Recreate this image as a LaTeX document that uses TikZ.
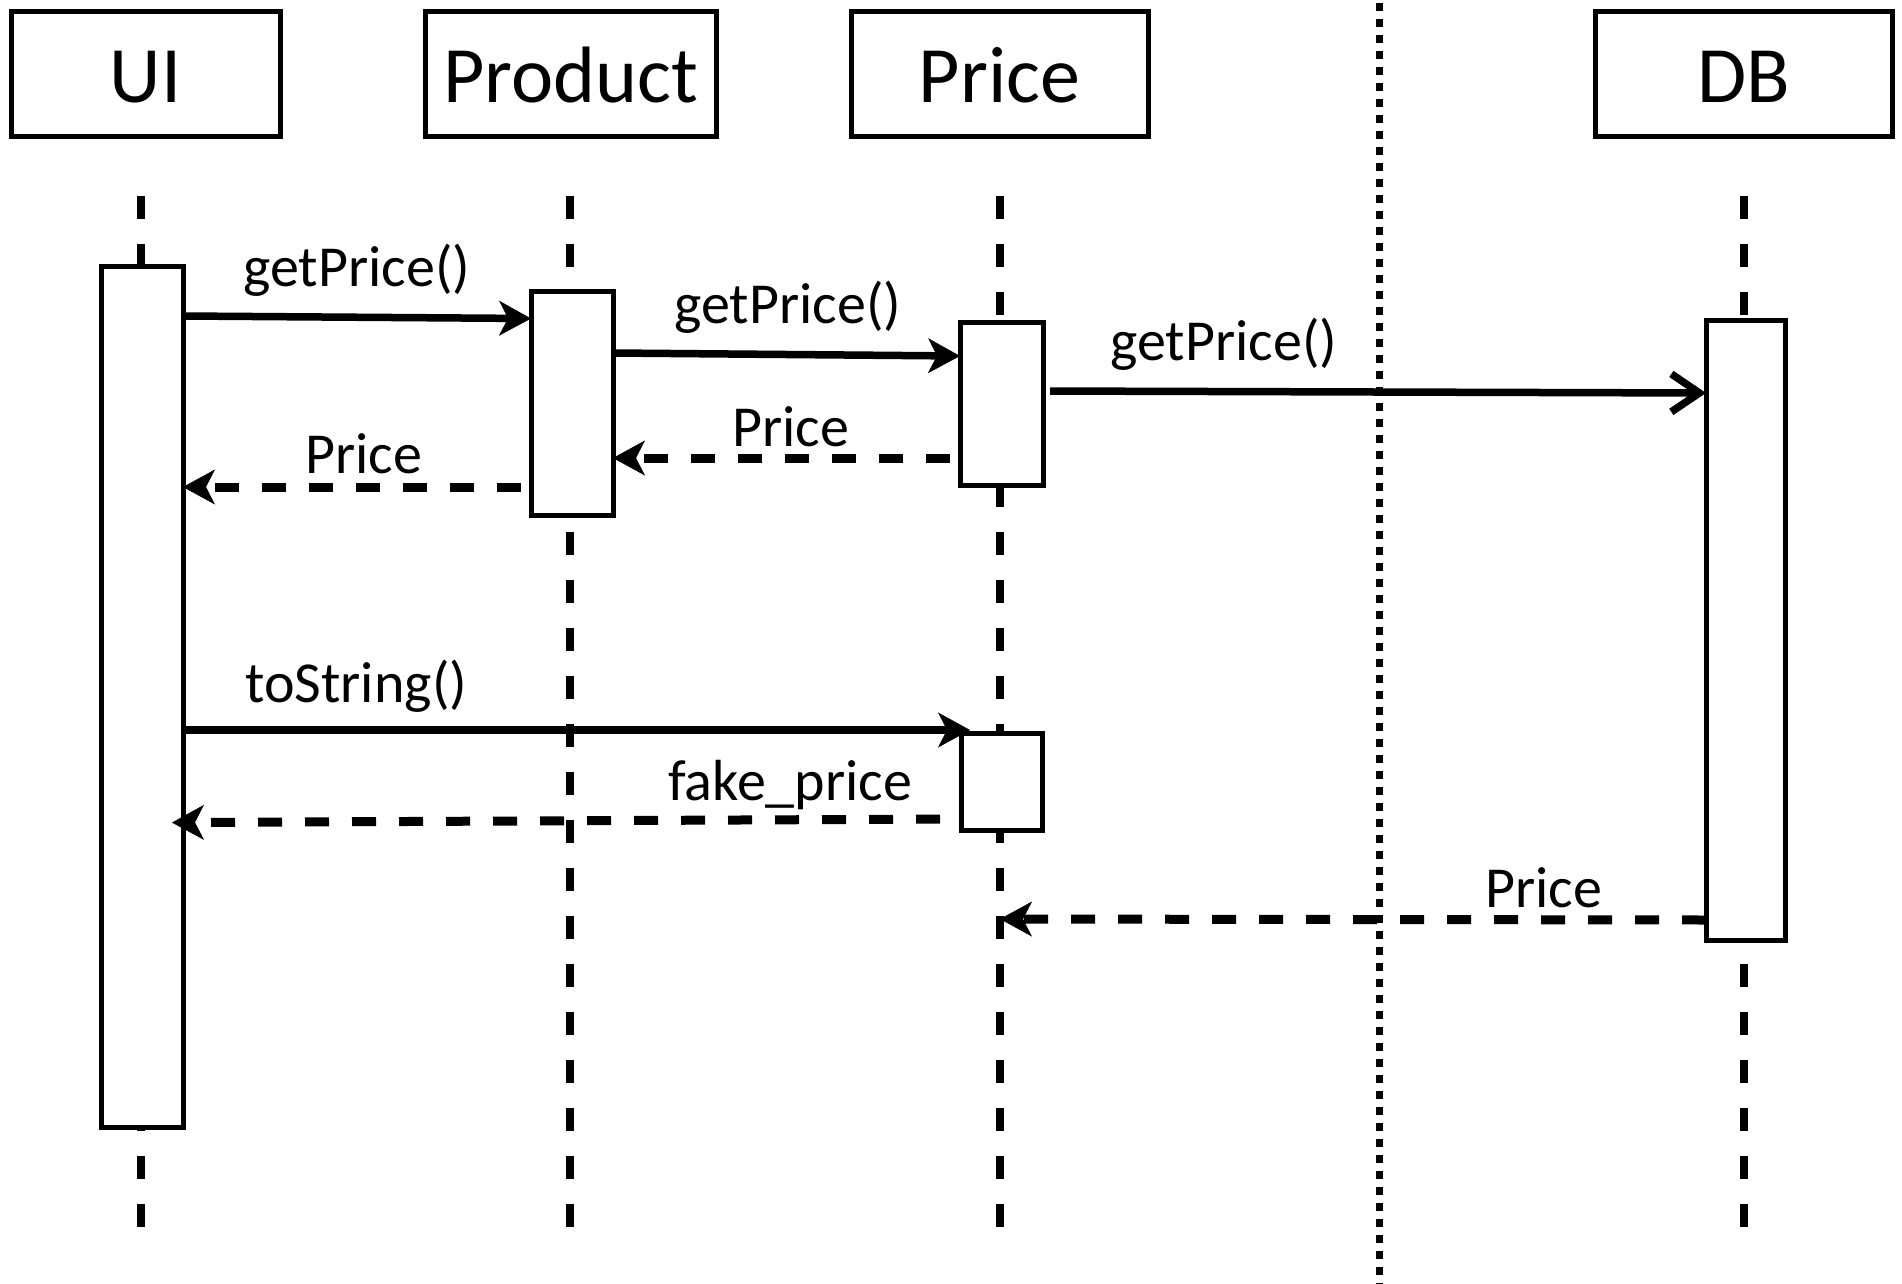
\documentclass[tikz,border=0pt]{standalone}
\usepackage{fontspec}
\setmainfont{Carlito}
\usetikzlibrary{arrows.meta}
\tikzset{
  hdr/.style={draw, line width=5pt, inner sep=0pt, outer sep=0pt, minimum height=125pt,
    font=\fontsize{80}{96}\selectfont, text height=57pt, text depth=0pt},
  act/.style={draw, fill=white, line width=5pt, inner sep=0pt, outer sep=0pt},
  lifeline/.style={line width=7.5pt, dash pattern=on 23pt off 25pt},
  divider/.style={line width=7pt, dash pattern=on 8pt off 8pt},
  filledtip/.style={-{Stealth[length=32pt,width=35pt,inset=9pt,line width=0.5pt]}},
  call/.style={line width=7.5pt, filledtip},
  async/.style={line width=7.5pt, -{Straight Barb[length=28pt,width=38pt]}},
  reply/.style={line width=9pt, dash pattern=on 24pt off 23pt, filledtip},
  lbl/.style={anchor=base west, inner sep=0pt, font=\fontsize{58}{70}\selectfont},
}
\begin{document}
\begin{tikzpicture}[x=1pt,y=-1pt]
\useasboundingbox (0,0) rectangle (1902,1284);

% lifeline end points
\coordinate (uiT) at (141,196);   \coordinate (uiB) at (141,1227);
\coordinate (prT) at (570,196);   \coordinate (prB) at (570,1227);
\coordinate (pcT) at (1000,196);  \coordinate (pcB) at (1000,1227);
\coordinate (dbT) at (1744,196);  \coordinate (dbB) at (1744,1227);
\coordinate (dvT) at (1379,3);    \coordinate (dvB) at (1379,1284);

\draw[lifeline] (uiT) -- (uiB);
\draw[lifeline] (prT) -- (prB);
\draw[lifeline] (pcT) -- (pcB);
\draw[lifeline] (dbT) -- (dbB);
\draw[divider] (dvT) -- (dvB);

% header boxes
\node[hdr, minimum width=269pt] (ui)      at (145.5,74.5)  {UI};
\node[hdr, minimum width=291pt] (product) at (570.5,74.5)  {Product};
\node[hdr, minimum width=297pt] (price)   at (999.5,74.5)  {Price};
\node[hdr, minimum width=297pt] (db)      at (1743.5,74.5) {DB};

% activation bars
\node[act, minimum width=82pt, minimum height=861pt] (uiact)     at (142,696.5)  {};
\node[act, minimum width=82pt, minimum height=224pt] (prodact)   at (572,403)    {};
\node[act, minimum width=83pt, minimum height=163pt] (priceactA) at (1001.5,403.5) {};
\node[act, minimum width=81pt, minimum height=97pt]  (priceactB) at (1001.5,782) {};
\node[act, minimum width=79pt, minimum height=620pt] (dbact)     at (1745.5,630) {};

% messages
\draw[call] (uiact.east |- 0,316) -- (prodact.west |- 0,318.5);
\draw[call] (prodact.east |- 0,353) -- (priceactA.west |- 0,356);
\draw[async, shorten <=7pt] (priceactA.east |- 0,391) -- (dbact.west |- 0,393);
\draw[reply, shorten <=10pt] (priceactA.west |- 0,458) -- (prodact.east |- 0,458);
\draw[reply, shorten <=10pt] (prodact.west |- 0,487) -- (uiact.east |- 0,487);
\draw[call, shorten >=-9pt] (uiact.east |- 0,730) -- (priceactB.west |- 0,730);
\draw[reply, shorten <=21pt, shorten >=-11pt] (priceactB.west |- 0,819) -- (uiact.east |- 0,822.5);
\draw[reply] (dbact.west |- 0,920) -- (pcT |- 0,919);

% labels
\node[lbl] (l1) at (243,286)  {getPrice()};
\node[lbl] (l2) at (674,323)  {getPrice()};
\node[lbl] (l3) at (1110,360) {getPrice()};
\node[lbl] (l4) at (732,446)  {Price};
\node[lbl] (l5) at (305,473)  {Price};
\node[lbl] (l6) at (245,702)  {toString()};
\node[lbl] (l7) at (668,800)  {fake\_price};
\node[lbl] (l8) at (1485,907) {Price};
\end{tikzpicture}
\end{document}
